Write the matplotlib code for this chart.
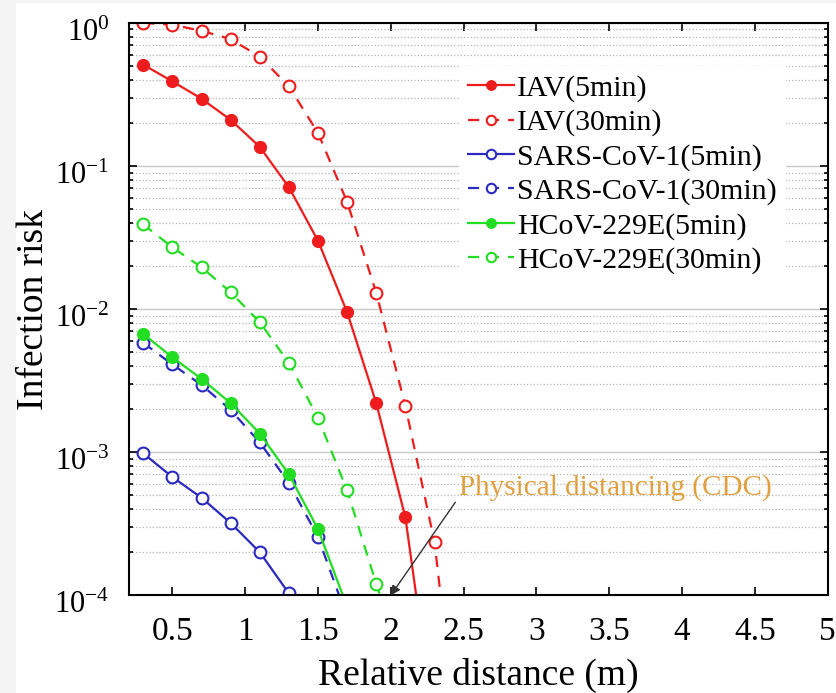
import numpy as np
import matplotlib
matplotlib.use('Agg')
import matplotlib.pyplot as plt
import matplotlib.transforms as mtransforms
from matplotlib.patches import Rectangle
from matplotlib.ticker import LogLocator, NullFormatter

plt.rcParams['font.family'] = 'Liberation Serif'
plt.rcParams['mathtext.fontset'] = 'stix'

# 相对距离 (m)
distance = [0.3, 0.5, 0.7, 0.9, 1.1, 1.3, 1.5, 1.7, 1.9, 2.1, 2.3, 2.5]

# 感染风险
iav_5 = [0.51, 0.39, 0.295, 0.21, 0.136, 0.071, 0.030, 0.0095, 0.0022, 3.5e-4, 1.2e-5]
iav_30 = [1.0, 0.97, 0.88, 0.77, 0.58, 0.36, 0.17, 0.056, 0.013, 0.0021, 2.35e-4, 4e-6]
sars_5 = [9.8e-4, 6.7e-4, 4.8e-4, 3.2e-4, 2.0e-4, 1.03e-4, 4e-5]
sars_30 = [5.8e-3, 4.1e-3, 2.95e-3, 1.97e-3, 1.17e-3, 6.1e-4, 2.55e-4, 7e-5]
hcov_5 = [6.7e-3, 4.6e-3, 3.25e-3, 2.2e-3, 1.35e-3, 7.0e-4, 2.9e-4, 8.3e-5]
hcov_30 = [0.039, 0.027, 0.0196, 0.0131, 0.0081, 4.2e-3, 1.74e-3, 5.4e-4, 1.2e-4, 3e-5]

red = '#ee1c1c'
blue = '#2a2ac0'
green = '#22dd22'

fig = plt.figure(figsize=(8.36, 6.93), dpi=100)
# 左侧和顶部的浅灰边
fig.patches.append(Rectangle((0, 0), 16 / 836, 1, transform=fig.transFigure,
                             facecolor='#f4f4f4', edgecolor='none', zorder=-10))
fig.patches.append(Rectangle((0, 1 - 3 / 693), 1, 3 / 693, transform=fig.transFigure,
                             facecolor='#f4f4f4', edgecolor='none', zorder=-10))

ax = fig.add_axes([0.154, 0.141, 0.836, 0.826])

ms = 8.5
ax.plot(distance[:len(iav_5)], iav_5, '-o', color=red, lw=1.6, ms=ms, mfc=red, label='IAV(5min)')
ax.plot(distance[:len(iav_30)], iav_30, '--o', color=red, lw=1.6, ms=ms, mfc='white', mew=1.5,
        dashes=(5, 4), label='IAV(30min)')
ax.plot(distance[:len(sars_5)], sars_5, '-o', color=blue, lw=1.6, ms=ms, mfc='white', mew=1.5,
        label='SARS-CoV-1(5min)')
ax.plot(distance[:len(sars_30)], sars_30, '--o', color=blue, lw=1.6, ms=ms, mfc='white', mew=1.5,
        dashes=(5, 4), label='SARS-CoV-1(30min)')
ax.plot(distance[:len(hcov_5)], hcov_5, '-o', color=green, lw=1.6, ms=ms, mfc=green,
        label='HCoV-229E(5min)')
ax.plot(distance[:len(hcov_30)], hcov_30, '--o', color=green, lw=1.6, ms=ms, mfc='white', mew=1.5,
        dashes=(5, 4), label='HCoV-229E(30min)')

ax.set_yscale('log')
ax.set_xlim(0.2, 5)
ax.set_ylim(1e-4, 1)
ax.set_xticks([0.5, 1, 1.5, 2, 2.5, 3, 3.5, 4, 4.5, 5])
ax.set_xticklabels(['0.5', '1', '1.5', '2', '2.5', '3', '3.5', '4', '4.5', '5'])
ax.yaxis.set_minor_locator(LogLocator(base=10, subs=np.arange(2, 10), numticks=20))
ax.yaxis.set_minor_formatter(NullFormatter())

# 网格线
ax.grid(True, which='major', axis='y', color='#c8c8c8', lw=1.0, ls='-')
ax.grid(True, which='minor', axis='y', color='#b4b4b4', lw=0.9, ls=':')
ax.set_axisbelow(True)

ax.tick_params(which='both', direction='in', top=True, right=True, width=1.2)
ax.tick_params(which='major', length=6)
ax.tick_params(which='minor', length=3)
ax.tick_params(axis='x', labelsize=24, pad=15)
ax.tick_params(axis='y', labelsize=22, pad=14)
for s in ax.spines.values():
    s.set_linewidth(1.5)

ax.set_xlabel('Relative distance (m)', fontsize=27, labelpad=8)
ax.set_ylabel('Infection risk', fontsize=27, labelpad=2)

# 物理距离标注
ax.text(2.47, 5.7e-4, 'Physical distancing (CDC)', fontsize=21, color='#e0a040',
        va='center', ha='left')
ax.annotate('', xy=(2.0, 1e-4), xytext=(2.443, 4.47e-4),
            arrowprops=dict(arrowstyle='-|>', color='#333333', lw=1.0,
                            shrinkA=0, shrinkB=0, mutation_scale=14),
            annotation_clip=False)

leg = ax.legend(loc='upper left', bbox_to_anchor=(0.451, 0.951), fontsize=21.5,
                frameon=True, facecolor='white', edgecolor='none', framealpha=1,
                handlelength=1.55, handletextpad=0.1, labelspacing=0.24,
                borderpad=0.3, fancybox=False, markerscale=0.8)

# y 轴刻度标签略向下移动
fig.canvas.draw()
shift = mtransforms.ScaledTranslation(0, -5 / 72, fig.dpi_scale_trans)
for t in ax.yaxis.get_major_ticks():
    t.label1.set_transform(t.label1.get_transform() + shift)

fig.savefig('out.png', dpi=100)
